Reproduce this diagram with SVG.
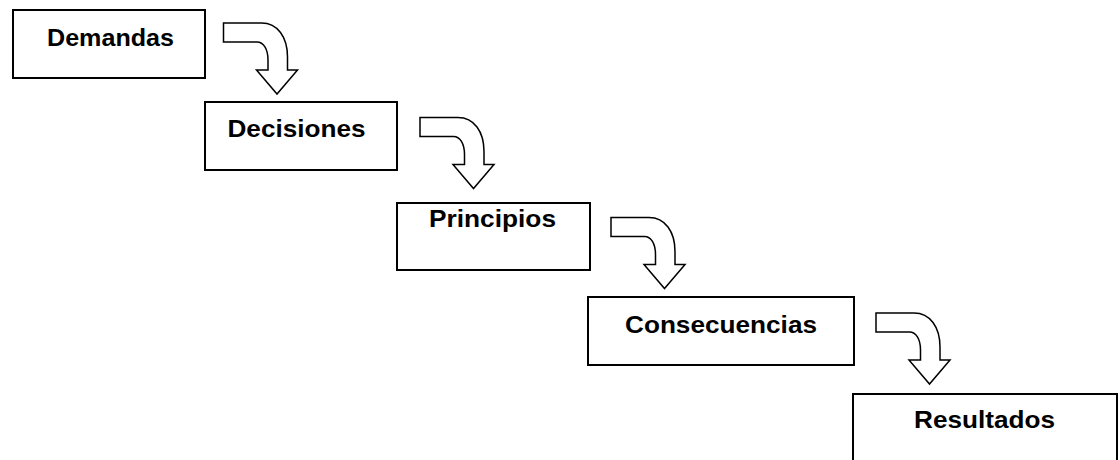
<svg xmlns="http://www.w3.org/2000/svg" width="1120" height="460" viewBox="0 0 1120 460">
<defs>
<style>
.box{fill:#fff;stroke:#000;stroke-width:2}
.lbl{font-family:"Liberation Sans",Arial,sans-serif;font-weight:bold;font-size:24px;fill:#000;text-anchor:middle}
.arr{fill:#fff;stroke:#000;stroke-width:1.5;stroke-linejoin:miter}
</style>
<path id="bent" d="M0,0 H38 C54,0 64,14 64,34 V47 H74 L53.5,71 L33,47 H44.5 V37 C44.5,26 40,19 33.5,19 H0 Z"/>
</defs>
<rect width="1120" height="460" fill="#fff"/>
<g id="connectors">
<use href="#bent" class="arr" x="223.5" y="23"/>
<use href="#bent" class="arr" x="420" y="117.5"/>
<use href="#bent" class="arr" x="611" y="217.5"/>
<use href="#bent" class="arr" x="876" y="313"/>
</g>
<g id="n1">
<rect class="box" x="13" y="10" width="192" height="68"/>
<text class="lbl" x="110.5" y="46" textLength="127" lengthAdjust="spacingAndGlyphs">Demandas</text>
</g>
<g id="n2">
<rect class="box" x="205" y="102" width="192" height="68"/>
<text class="lbl" x="296.5" y="137" textLength="138" lengthAdjust="spacingAndGlyphs">Decisiones</text>
</g>
<g id="n3">
<rect class="box" x="397" y="203" width="193" height="67"/>
<text class="lbl" x="492.5" y="227" textLength="127" lengthAdjust="spacingAndGlyphs">Principios</text>
</g>
<g id="n4">
<rect class="box" x="588" y="297" width="266" height="68"/>
<text class="lbl" x="721" y="333" textLength="192" lengthAdjust="spacingAndGlyphs">Consecuencias</text>
</g>
<g id="n5">
<rect class="box" x="853" y="394" width="264" height="72"/>
<text class="lbl" x="984.5" y="428" textLength="141" lengthAdjust="spacingAndGlyphs">Resultados</text>
</g>
</svg>
